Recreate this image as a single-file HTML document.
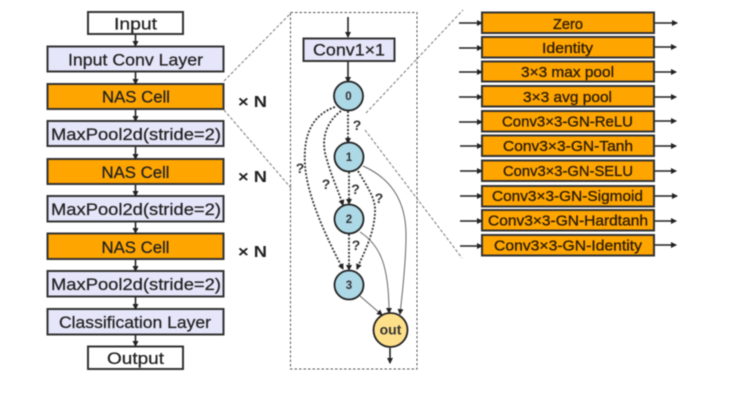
<!DOCTYPE html>
<html>
<head>
<meta charset="utf-8">
<style>
html,body{margin:0;padding:0;background:#fff;width:734px;height:404px;overflow:hidden}
svg{display:block;filter:blur(0.55px)}
text{font-family:"Liberation Sans","Noto Sans CJK SC",sans-serif;font-weight:400;fill:#222;text-anchor:middle}
.b{stroke:#333;stroke-width:2}
.l{fill:#e6e6fa}
.o{fill:#ffa500}
.w{fill:#fff}
.a{stroke:#222;stroke-width:1.6;fill:none}
.d{stroke:#333;stroke-width:1.8;stroke-dasharray:2 1.6;fill:none}
.g{stroke:#666;stroke-width:1;fill:none}
.z{stroke:#777;stroke-width:1;stroke-dasharray:3 2;fill:none}
.n{fill:#add8e6;stroke:#222;stroke-width:1.8}
.t{font-size:17px;stroke:#222;stroke-width:.25}
.r{font-size:14.500px;fill:#2a1c00;stroke:#2a1c00;stroke-width:.3}
.q{font-size:14px;font-weight:700;fill:#333}
.x{font-size:16px;font-weight:700;fill:#222;text-anchor:start}
</style>
</head>
<body>
<svg width="734" height="404" viewBox="0 0 734 404" xmlns="http://www.w3.org/2000/svg">
<defs>
<marker id="m" markerWidth="6" markerHeight="6" refX="5" refY="3" orient="auto" markerUnits="userSpaceOnUse"><path d="M0,0L6,3L0,6Z" fill="#222"/></marker>
</defs>

<!-- left stack -->
<rect class="b w" x="88" y="12" width="95" height="22"/>
<rect class="b l" x="47.500" y="46.500" width="176" height="25"/>
<rect class="b o" x="47.500" y="84" width="176" height="25"/>
<rect class="b l" x="47.500" y="121" width="176" height="25"/>
<rect class="b o" x="47.500" y="159" width="176" height="25"/>
<rect class="b l" x="47.500" y="196" width="176" height="25.500"/>
<rect class="b o" x="47.500" y="233.500" width="176" height="25.500"/>
<rect class="b l" x="47.500" y="271" width="176" height="25.500"/>
<rect class="b l" x="47.500" y="309" width="176" height="25.500"/>
<rect class="b w" x="88" y="346.500" width="95" height="22.500"/>

<text class="t" x="135.500" y="29.500" textLength="43" lengthAdjust="spacingAndGlyphs">Input</text>
<text class="t" x="135.500" y="65.500" textLength="135" lengthAdjust="spacingAndGlyphs">Input Conv Layer</text>
<text class="t" x="136" y="102.500" textLength="68" lengthAdjust="spacingAndGlyphs">NAS Cell</text>
<text class="t" x="136" y="140" textLength="170" lengthAdjust="spacingAndGlyphs">MaxPool2d(stride=2)</text>
<text class="t" x="135.500" y="178" textLength="68" lengthAdjust="spacingAndGlyphs">NAS Cell</text>
<text class="t" x="136" y="215" textLength="170" lengthAdjust="spacingAndGlyphs">MaxPool2d(stride=2)</text>
<text class="t" x="135.500" y="253" textLength="68" lengthAdjust="spacingAndGlyphs">NAS Cell</text>
<text class="t" x="136" y="290" textLength="170" lengthAdjust="spacingAndGlyphs">MaxPool2d(stride=2)</text>
<text class="t" x="135" y="328" textLength="152" lengthAdjust="spacingAndGlyphs">Classification Layer</text>
<text class="t" x="135.500" y="364" textLength="57" lengthAdjust="spacingAndGlyphs">Output</text>

<!-- left stack arrows -->
<g class="a">
<path d="M135.500,35V46" marker-end="url(#m)"/>
<path d="M135.500,72V84" marker-end="url(#m)"/>
<path d="M135.500,110V121" marker-end="url(#m)"/>
<path d="M135.500,147V159" marker-end="url(#m)"/>
<path d="M135.500,185V196" marker-end="url(#m)"/>
<path d="M135.500,222V233" marker-end="url(#m)"/>
<path d="M135.500,260V271" marker-end="url(#m)"/>
<path d="M135.500,297V309" marker-end="url(#m)"/>
<path d="M135.500,335V346" marker-end="url(#m)"/>
</g>

<text class="x" x="238" y="107" textLength="29" lengthAdjust="spacingAndGlyphs">× N</text>
<text class="x" x="238" y="182" textLength="29" lengthAdjust="spacingAndGlyphs">× N</text>
<text class="x" x="238" y="257" textLength="29" lengthAdjust="spacingAndGlyphs">× N</text>

<!-- zoom lines -->
<path class="z" d="M224,81L290,14"/>
<path class="z" d="M224,110L291,188"/>
<path class="z" d="M366,113L463,10"/>
<path class="z" d="M365,130L462,258"/>

<!-- dashed cell box -->
<rect x="290.500" y="12.500" width="126.500" height="356.500" fill="none" stroke="#555" stroke-width="1" stroke-dasharray="2.500 2"/>

<!-- conv -->
<path class="a" d="M348,17V37" marker-end="url(#m)"/>
<rect class="b l" x="303.500" y="38.500" width="91" height="22.500"/>
<text class="t" x="349" y="55.500" textLength="72" lengthAdjust="spacingAndGlyphs">Conv1×1</text>
<path class="a" d="M348,62V82" marker-end="url(#m)"/>

<!-- dotted edges -->
<path class="d" d="M348,111V143" marker-end="url(#m)"/>
<path class="d" d="M335,107C312,115 303,135 305,165C307,195 325,235 343,269" marker-end="url(#m)"/>
<path class="d" d="M341,111C326,122 320,140 327,160C331,175 338,190 343,205" marker-end="url(#m)"/>
<path class="d" d="M349,172V204" marker-end="url(#m)"/>
<path class="d" d="M358,171C366,185 376,198 375,212C374,235 364,252 357,269" marker-end="url(#m)"/>
<path class="d" d="M349,234V270" marker-end="url(#m)"/>

<!-- solid edges -->
<path class="g" d="M363,166C390,178 406,200 406,235C406,265 402,295 400,314" marker-end="url(#m)"/>
<path class="g" d="M360,232C380,245 389,265 389,313" marker-end="url(#m)"/>
<path class="g" d="M360,296L382,315" marker-end="url(#m)"/>
<path class="a" d="M390,348V363" marker-end="url(#m)"/>

<!-- nodes -->
<circle class="n" cx="348.500" cy="96" r="14.500"/>
<circle class="n" cx="349" cy="157" r="14.500"/>
<circle class="n" cx="349" cy="219" r="14.500"/>
<circle class="n" cx="349" cy="285" r="14.500"/>
<circle cx="390.500" cy="330" r="17" fill="#ffe08a" stroke="#222" stroke-width="1.800"/>
<text x="348.500" y="100" style="font-size:11.500px;font-weight:700;fill:#333">0</text>
<text x="349" y="161" style="font-size:11.500px;font-weight:700;fill:#333">1</text>
<text x="349" y="223" style="font-size:11.500px;font-weight:700;fill:#333">2</text>
<text x="349" y="289" style="font-size:11.500px;font-weight:700;fill:#333">3</text>
<text x="390.500" y="334.500" style="font-size:14px;font-weight:700;fill:#333">out</text>

<!-- question marks -->
<text class="q" x="357" y="130">?</text>
<text class="q" x="300" y="173">?</text>
<text class="q" x="326" y="189">?</text>
<text class="q" x="355.500" y="194">?</text>
<text class="q" x="379" y="203">?</text>
<text class="q" x="356" y="250">?</text>

<!-- operations -->
<g class="b o">
<rect x="482" y="12.500" width="172" height="20.500"/>
<rect x="482" y="37" width="172" height="20.500"/>
<rect x="482" y="61.500" width="172" height="20"/>
<rect x="482" y="86" width="172" height="20.500"/>
<rect x="482" y="111" width="172" height="20.500"/>
<rect x="482" y="135.500" width="172" height="20.500"/>
<rect x="482" y="160.500" width="172" height="20.500"/>
<rect x="482" y="186" width="172" height="20.500"/>
<rect x="482" y="210" width="172" height="20.500"/>
<rect x="482" y="235" width="172" height="20.500"/>
</g>
<text class="r" x="568" y="29" textLength="30" lengthAdjust="spacingAndGlyphs">Zero</text>
<text class="r" x="567.500" y="53" textLength="51" lengthAdjust="spacingAndGlyphs">Identity</text>
<text class="r" x="567.500" y="77" textLength="93" lengthAdjust="spacingAndGlyphs">3×3 max pool</text>
<text class="r" x="567.500" y="102" textLength="89" lengthAdjust="spacingAndGlyphs">3×3 avg pool</text>
<text class="r" x="567.500" y="126.500" textLength="131" lengthAdjust="spacingAndGlyphs">Conv3×3-GN-ReLU</text>
<text class="r" x="568" y="151" textLength="130" lengthAdjust="spacingAndGlyphs">Conv3×3-GN-Tanh</text>
<text class="r" x="568" y="176" textLength="130" lengthAdjust="spacingAndGlyphs">Conv3×3-GN-SELU</text>
<text class="r" x="567.500" y="201" textLength="151" lengthAdjust="spacingAndGlyphs">Conv3×3-GN-Sigmoid</text>
<text class="r" x="568" y="225.500" textLength="160" lengthAdjust="spacingAndGlyphs">Conv3×3-GN-Hardtanh</text>
<text class="r" x="568" y="250.500" textLength="148" lengthAdjust="spacingAndGlyphs">Conv3×3-GN-Identity</text>

<!-- operation arrows -->
<g class="a">
<path d="M459,23H482" marker-end="url(#m)"/><path d="M655,23H677" marker-end="url(#m)"/>
<path d="M459,48H482" marker-end="url(#m)"/><path d="M655,47H676" marker-end="url(#m)"/>
<path d="M459,72H482" marker-end="url(#m)"/><path d="M655,72H676" marker-end="url(#m)"/>
<path d="M459,97H482" marker-end="url(#m)"/><path d="M655,97H676" marker-end="url(#m)"/>
<path d="M459,122H482" marker-end="url(#m)"/><path d="M655,121H676" marker-end="url(#m)"/>
<path d="M460,146H482" marker-end="url(#m)"/><path d="M655,146H676" marker-end="url(#m)"/>
<path d="M460,171H482" marker-end="url(#m)"/><path d="M655,171H676" marker-end="url(#m)"/>
<path d="M460,196H482" marker-end="url(#m)"/><path d="M655,196H677" marker-end="url(#m)"/>
<path d="M460,221H482" marker-end="url(#m)"/><path d="M655,221H676" marker-end="url(#m)"/>
<path d="M460,246H482" marker-end="url(#m)"/><path d="M655,245H676" marker-end="url(#m)"/>
</g>
</svg>
</body>
</html>
